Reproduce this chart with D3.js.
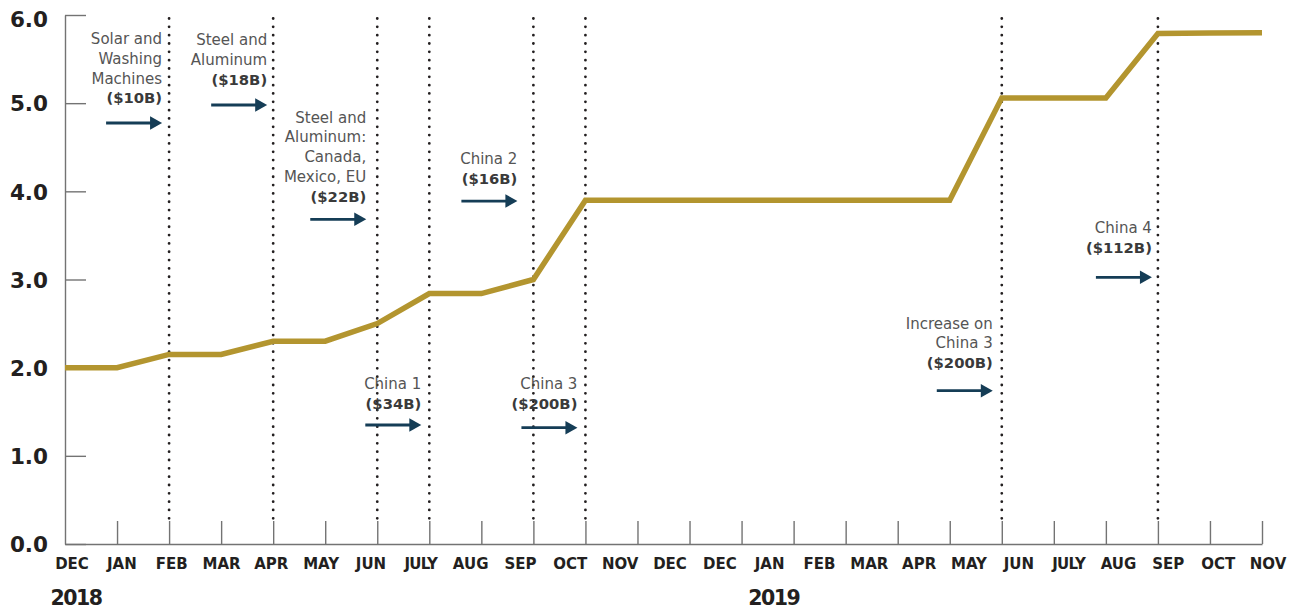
<!DOCTYPE html>
<html>
<head>
<meta charset="utf-8">
<script src="https://cdn.jsdelivr.net/npm/d3@7"></script>
<style>
  html, body { margin: 0; padding: 0; background: #ffffff; }
  svg { display: block; }
</style>
</head>
<body>
<svg id="chart" width="1294" height="610"></svg>
<script>
// Month labels printed under the axis (the original layout repeats DEC)
const monthLabels = ["DEC","JAN","FEB","MAR","APR","MAY","JUN","JULY","AUG","SEP","OCT","NOV",
                     "DEC","DEC","JAN","FEB","MAR","APR","MAY","JUN","JULY","AUG","SEP","OCT","NOV"];

// Year captions and the month label each one sits under
const yearLabels = ["2018", "2019"];
const yearLabelIndex = [0, 14];

// Average tariff rate (%) for each month, Dec 2017 .. Nov 2019
const tariffRate = [2.0, 2.0, 2.15, 2.15, 2.3, 2.3, 2.5, 2.84, 2.84, 3.0, 3.9, 3.9,
                    3.9, 3.9, 3.9, 3.9, 3.9, 3.9, 5.06, 5.06, 5.06, 5.79, 5.795, 5.8];

// Y axis tick values
const yTicks = [0, 1, 2, 3, 4, 5, 6];

// Months in which a tariff action took effect
const eventMonths = [2, 4, 6, 7, 9, 10, 18, 21];

// Tariff action notes: month, text lines, amount, arrow level and label level (in % units)
const annotations = [
  { month: 2,  lines: ["Solar and", "Washing", "Machines"], amount: "($10B)", arrowAt: 4.775, labelAt: 4.998, gap: 7 },
  { month: 4,  lines: ["Steel and", "Aluminum"],            amount: "($18B)", arrowAt: 4.979, labelAt: 5.206, gap: 6 },
  { month: 6,  lines: ["Steel and", "Aluminum:", "Canada,", "Mexico, EU"], amount: "($22B)", arrowAt: 3.683, labelAt: 3.882, gap: 11 },
  { month: 7,  lines: ["China 1"],                          amount: "($34B)", arrowAt: 1.350, labelAt: 1.528, gap: 8 },
  { month: 9,  lines: ["China 2"],                          amount: "($16B)", arrowAt: 3.890, labelAt: 4.083, gap: 16 },
  { month: 10, lines: ["China 3"],                          amount: "($200B)", arrowAt: 1.319, labelAt: 1.528, gap: 8 },
  { month: 18, lines: ["Increase on", "China 3"],           amount: "($200B)", arrowAt: 1.739, labelAt: 1.993, gap: 9 },
  { month: 21, lines: ["China 4"],                          amount: "($112B)", arrowAt: 3.025, labelAt: 3.304, gap: 6 }
];

const svg = d3.select("#chart");

const x = d3.scaleLinear().domain([0, tariffRate.length - 1]).range([65, 1262]);
const xLabel = d3.scalePoint().domain(d3.range(monthLabels.length)).range([72, 1268]);
const y = d3.scaleLinear().domain([0, 6]).range([544, 15]);

const axisColor = "#737373";
const inkColor = "#231f20";
const boldFont = "'DejaVu Sans', sans-serif";

// Dotted guide lines at each tariff action
svg.append("g")
  .selectAll("line")
  .data(eventMonths)
  .join("line")
    .attr("x1", d => x(d)).attr("x2", d => x(d))
    .attr("y1", 518.3).attr("y2", 13)
    .attr("stroke", inkColor)
    .attr("stroke-width", 2.8)
    .attr("stroke-linecap", "round")
    .attr("stroke-dasharray", "0 8.33");

// Y axis
const yAxis = svg.append("g")
  .attr("transform", `translate(${x(0)},0)`)
  .call(d3.axisLeft(y)
    .tickValues(yTicks)
    .tickSizeInner(-21)
    .tickSizeOuter(0)
    .tickPadding(17)
    .tickFormat(d3.format(".1f")));
yAxis.select(".domain").attr("stroke", axisColor).attr("stroke-width", 1.4);
yAxis.selectAll(".tick line").attr("stroke", axisColor).attr("stroke-width", 1.4);
yAxis.selectAll(".tick text")
  .attr("fill", inkColor)
  .attr("font-family", boldFont)
  .attr("font-weight", "bold")
  .attr("font-size", 21.5)
  .attr("dy", d => d === 6 ? "0.55em" : "0.36em");

// X axis (ticks only; month labels are placed below)
const xAxis = svg.append("g")
  .attr("transform", `translate(0,${y(0)})`)
  .call(d3.axisBottom(x)
    .tickValues(d3.range(1, tariffRate.length))
    .tickSizeInner(-23)
    .tickSizeOuter(0)
    .tickFormat(""));
xAxis.select(".domain").attr("stroke", axisColor).attr("stroke-width", 1.4);
xAxis.selectAll(".tick line").attr("stroke", axisColor).attr("stroke-width", 1.4);

// Month labels
svg.append("g")
  .selectAll("text")
  .data(monthLabels)
  .join("text")
    .attr("x", (d, i) => xLabel(i))
    .attr("y", 569)
    .attr("text-anchor", "middle")
    .attr("font-family", boldFont)
    .attr("font-weight", "bold")
    .attr("font-size", 15)
    .attr("letter-spacing", d => d === "JULY" ? -0.8 : 0)
    .attr("fill", inkColor)
    .text(d => d);

// Year captions
svg.append("g")
  .selectAll("text")
  .data(yearLabels)
  .join("text")
    .attr("x", (d, i) => xLabel(yearLabelIndex[i]) + 4)
    .attr("y", 605)
    .attr("text-anchor", "middle")
    .attr("font-family", boldFont)
    .attr("font-weight", "bold")
    .attr("font-size", 20.5)
    .attr("letter-spacing", -1.5)
    .attr("fill", inkColor)
    .text(d => d);

// Tariff rate line
const line = d3.line()
  .x((d, i) => x(i))
  .y(d => y(d));

svg.append("path")
  .datum(tariffRate)
  .attr("d", line)
  .attr("fill", "none")
  .attr("stroke", "#b3952f")
  .attr("stroke-width", 5.5)
  .attr("stroke-linejoin", "miter");

// Annotations: text block and arrow pointing at the guide line
const arrowColor = "#153d56";
const ann = svg.append("g")
  .selectAll("g")
  .data(annotations)
  .join("g");

ann.each(function(a) {
  const g = d3.select(this);
  const tipX = x(a.month) - a.gap;
  const tailX = tipX - 56;
  const ay = y(a.arrowAt);
  const by = y(a.labelAt);

  a.lines.forEach((t, i) => {
    g.append("text")
      .attr("x", tipX)
      .attr("y", by - (a.lines.length - i) * 19.8)
      .attr("text-anchor", "end")
      .attr("font-family", "'DejaVu Sans', sans-serif")
      .attr("font-size", 15)
      .attr("fill", "#555555")
      .text(t);
  });
  g.append("text")
    .attr("x", tipX)
    .attr("y", by)
    .attr("text-anchor", "end")
    .attr("font-family", boldFont)
    .attr("font-weight", "bold")
    .attr("font-size", 14.8)
    .attr("fill", "#3a3a3a")
    .text(a.amount);

  g.append("line")
    .attr("x1", tailX).attr("x2", tipX - 10)
    .attr("y1", ay).attr("y2", ay)
    .attr("stroke", arrowColor)
    .attr("stroke-width", 2.8);
  g.append("path")
    .attr("d", `M${tipX},${ay} L${tipX - 12},${ay - 6.8} L${tipX - 12},${ay + 6.8} Z`)
    .attr("fill", arrowColor);
});
</script>
</body>
</html>
